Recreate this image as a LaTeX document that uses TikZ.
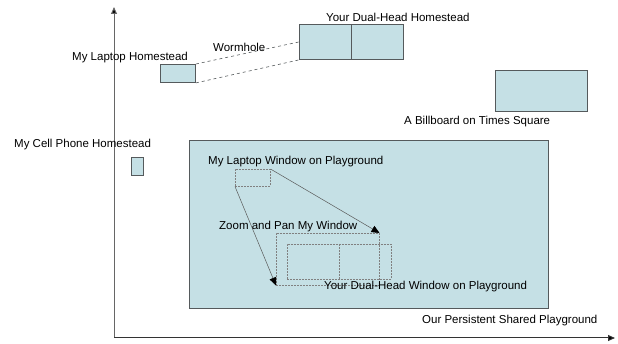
\documentclass[tikz,border=0pt]{standalone}
\usepackage{fontspec}
\setmainfont{Liberation Sans}
\usetikzlibrary{arrows.meta}
\definecolor{padfill}{RGB}{197,224,229}
\definecolor{padedge}{RGB}{85,90,92}
\begin{document}
\begin{tikzpicture}[x=1pt,y=-1pt,
  font=\fontsize{11.5}{13}\selectfont,
  pad/.style={draw=padedge,fill=padfill,line width=0.9pt,inner sep=0pt,anchor=north west},
  winbox/.style={draw=gray,dashed,dash pattern=on 2pt off 1pt,line width=0.5pt,inner sep=0pt,anchor=north west},
  lbl/.style={inner sep=0pt,anchor=west},
  axis/.style={line width=1pt,-{Triangle[length=7pt,width=6pt,fill=black]}},
  pointer/.style={draw=gray!70!black,line width=0.5pt,-{Triangle[length=8pt,width=7pt,fill=black,color=black]}}]
\useasboundingbox (0,0) rectangle (618,344);
% axes
\coordinate (origin) at (114,338);
\coordinate (ytip) at (114,7);
\coordinate (xtip) at (615,338);
\draw[axis,draw=gray!80!black] (origin) -- (ytip);
\draw[axis,draw=black!80] (origin) -- (xtip);
% homesteads
\node[pad,minimum width=35pt,minimum height=18pt] (lap) at (160,64) {};
\node[pad,minimum width=104pt,minimum height=35pt] (dual) at (299,24) {};
\draw[padedge,line width=0.9pt] (dual.north) -- (dual.south);
\node[pad,minimum width=92pt,minimum height=41pt] (bill) at (495,70) {};
\node[pad,minimum width=12pt,minimum height=18pt] (cell) at (131,157) {};
% wormhole
\draw[dashed,padedge,line width=0.6pt] (lap.north east) -- (dual.west);
\draw[dashed,padedge,line width=0.6pt] (lap.south east) -- (dual.south west);
% playground
\node[pad,minimum width=359pt,minimum height=168pt] (play) at (189,140) {};
% windows on the playground
\node[winbox,minimum width=35pt,minimum height=17pt] (lapwin) at (235,169) {};
\node[winbox,minimum width=103pt,minimum height=52pt] (zoomwin) at (276,233) {};
\node[winbox,minimum width=104pt,minimum height=35pt] (dualwin) at (287,244) {};
\draw[gray,dashed,dash pattern=on 2pt off 1pt,line width=0.5pt] (dualwin.north) -- (dualwin.south);
\draw[pointer] (lapwin.north east) -- (zoomwin.north east);
\draw[pointer] (lapwin.south west) -- (zoomwin.south west);
% labels
\node[lbl] (tdual) at (326,17) {Your Dual-Head Homestead};
\node[lbl] (tworm) at (213,47) {Wormhole};
\node[lbl] (tlap) at (72,58) {My Laptop Homestead};
\node[lbl] (tbill) at (404,122) {A Billboard on Times Square};
\node[lbl] (tcell) at (14,145) {My Cell Phone Homestead};
\node[lbl] (tlapwin) at (208,162) {My Laptop Window on Playground};
\node[lbl] (tzoom) at (219,227) {Zoom and Pan My Window};
\node[lbl] (tdualwin) at (324,287) {Your Dual-Head Window on Playground};
\node[lbl] (tplay) at (422,321) {Our Persistent Shared Playground};
\end{tikzpicture}
\end{document}
